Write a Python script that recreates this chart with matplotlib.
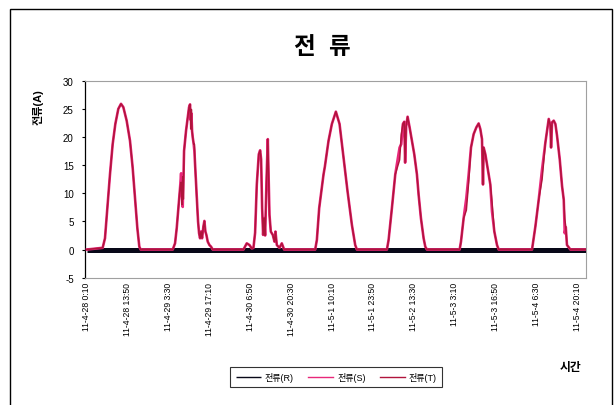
import matplotlib
matplotlib.use("Agg")
import matplotlib.pyplot as plt
from matplotlib.patches import Rectangle

plt.rcParams["font.family"] = ["Liberation Sans", "Noto Sans CJK KR", "DejaVu Sans"]

# ── Data (hours since 11-4-28 0:10, current in A) ────────────────────────────
tick_labels = [
    "11-4-28 0:10", "11-4-28 13:50", "11-4-29 3:30", "11-4-29 17:10",
    "11-4-30 6:50", "11-4-30 20:30", "11-5-1 10:10", "11-5-1 23:50",
    "11-5-2 13:30", "11-5-3 3:10", "11-5-3 16:50", "11-5-4 6:30",
    "11-5-4 20:10",
]
tick_hours = [0.0, 13.67, 27.33, 41.0, 54.67, 68.33, 82.0, 95.67,
              109.33, 123.0, 136.67, 150.33, 164.0]

r_hours = [0.0, 167.0]
r_current = [0.0, 0.0]

hours = [
    # 4/28
    0.0, 5.25, 6.03, 6.81, 7.70, 8.60, 9.49, 10.49, 11.39, 12.17, 13.28,
    14.40, 15.29, 16.07, 16.86, 17.52, 17.97,
    # 4/29
    28.70, 29.47, 30.03, 30.59, 31.15, 31.50, 31.80, 32.04, 32.25, 32.49,
    33.15, 33.71, 34.16, 34.49, 34.72, 34.94, 35.16, 35.39, 35.72, 35.94,
    36.17, 36.50, 36.84, 37.17, 37.51, 37.84, 38.18, 38.51, 38.96, 39.29,
    39.63, 39.96, 40.41, 40.97, 41.52, 42.08,
    # 4/30
    52.36, 53.47, 54.36, 55.15, 55.70, 56.26, 56.82, 57.49, 57.94, 58.27,
    58.61, 58.94, 59.28, 59.61, 60.06, 60.50, 60.84, 61.06, 61.51, 62.18,
    62.74, 63.07, 63.52, 64.41, 65.19, 65.97,
    # 5/1
    76.36, 76.92, 77.70, 79.15, 79.60, 80.82, 81.94, 83.28, 84.51, 85.84,
    87.18, 88.64, 89.75, 90.31,
    # 5/2
    100.36, 100.92, 102.03, 103.15, 104.60, 105.16, 105.71, 106.16, 106.45,
    106.80, 107.28, 107.95, 108.73, 109.51, 110.40, 110.96, 111.74, 112.64,
    113.20, 113.75,
    # 5/3
    124.69, 125.14, 126.03, 126.93, 127.71, 128.49, 129.38, 130.28, 131.05,
    131.61, 132.17, 132.50, 132.73, 133.29, 134.41, 134.96, 135.52, 136.30,
    137.19, 137.75,
    # 5/4
    148.91, 150.03, 151.15, 152.27, 153.38, 153.94, 154.50, 155.06, 155.28,
    155.61, 156.17, 156.73, 157.28, 158.18, 158.96, 159.52, 159.86, 160.20,
    160.60, 161.75, 167.0,
]

s_current = [
    0.0, 0.3, 2.0, 7.4, 13.4, 18.8, 22.4, 25.1, 26.0, 25.4, 23.0,
    19.4, 14.6, 9.2, 3.8, 0.5, 0.0,
    0.0, 1.1, 3.8, 7.4, 11.0, 13.6, 9.5, 7.6, 12.5, 17.6,
    21.2, 23.6, 25.4, 25.9, 23.1, 24.3, 21.2, 20.0, 18.8, 17.6,
    15.2, 11.6, 8.0, 5.0, 2.9, 2.0, 3.2, 2.0, 4.1, 5.1,
    3.2, 2.6, 1.4, 0.8, 0.5, 0.0,
    0.0, 1.1, 0.8, 0.2, 0.3, 3.0, 11.6, 17.0, 17.7, 16.1,
    7.4, 2.6, 5.6, 2.5, 12.0, 19.7, 12.0, 6.2, 3.2, 2.6,
    1.4, 3.2, 0.8, 0.3, 1.1, 0.0,
    0.0, 1.7, 7.4, 13.4, 14.8, 19.4, 22.4, 24.6, 22.4, 16.4,
    10.4, 4.4, 0.8, 0.0,
    0.0, 1.7, 7.4, 13.4, 18.2, 18.8, 22.4, 22.8, 15.5,
    22.0, 23.7, 21.8, 19.4, 17.0, 13.4, 9.8, 5.6, 2.0,
    0.5, 0.0,
    0.0, 1.4, 5.6, 9.2, 13.4, 18.2, 20.6, 21.8, 22.5,
    21.5, 19.7, 11.6, 18.2, 17.0, 13.4, 11.6, 6.8, 3.2,
    0.8, 0.0,
    0.0, 4.1, 8.9, 14.3, 19.1, 21.2, 23.3, 22.1, 18.2,
    22.7, 23.0, 22.4, 20.3, 16.1, 11.3, 8.9, 2.9, 4.0,
    0.8, 0.0, 0.0,
]

t_current = [
    0.0, 0.3, 2.0, 7.4, 13.4, 18.8, 22.4, 25.1, 26.0, 25.4, 23.0,
    19.4, 14.6, 9.2, 3.8, 0.5, 0.0,
    0.0, 1.1, 3.8, 7.4, 11.0, 12.0, 8.0, 13.0, 9.0, 17.6,
    21.2, 23.6, 25.4, 25.9, 21.5, 25.0, 21.2, 20.0, 18.8, 18.8,
    15.2, 11.6, 8.0, 5.0, 2.9, 2.0, 3.2, 2.0, 4.1, 5.1,
    3.2, 2.6, 1.4, 0.8, 0.5, 0.0,
    0.0, 1.1, 0.8, 0.2, 0.3, 3.0, 11.6, 17.0, 17.7, 16.1,
    7.4, 2.6, 5.6, 2.5, 12.0, 19.7, 12.0, 6.2, 3.2, 2.6,
    1.4, 3.2, 0.8, 0.3, 1.1, 0.0,
    0.0, 1.7, 7.4, 13.4, 14.8, 19.4, 22.4, 24.6, 22.4, 16.4,
    10.4, 4.4, 0.8, 0.0,
    0.0, 1.7, 7.4, 13.4, 16.0, 20.5, 22.4, 22.8, 15.5,
    22.0, 23.7, 21.8, 19.4, 17.0, 13.4, 9.8, 5.6, 2.0,
    0.5, 0.0,
    0.0, 1.4, 5.6, 7.0, 12.0, 18.2, 20.6, 21.8, 22.5,
    21.5, 19.7, 11.6, 18.2, 17.0, 13.4, 11.6, 8.5, 3.2,
    0.8, 0.0,
    0.0, 4.1, 8.9, 12.5, 19.1, 21.2, 23.3, 22.1, 18.2,
    22.7, 23.0, 22.4, 20.3, 16.1, 11.3, 8.9, 5.5, 4.0,
    0.8, 0.0, 0.0,
]

y_ticks = [-5, 0, 5, 10, 15, 20, 25, 30]

# ── Figure ───────────────────────────────────────────────────────────────────
fig = plt.figure(figsize=(6.15, 4.06), dpi=100)
fig.patch.set_facecolor("white")
ax = fig.add_axes([0.138, 0.314, 0.815, 0.483])

ax.plot(r_hours, r_current, color="#080818", linewidth=3.6, label="전류(R)",
        solid_capstyle="butt", zorder=3)
ax.plot(hours, s_current, color="#e8287a", linewidth=1.9, label="전류(S)",
        zorder=4)
ax.plot(hours, t_current, color="#b0143c", linewidth=1.1, label="전류(T)",
        zorder=5)

ax.set_xlim(-0.7, 167.0)
ax.set_ylim(-5, 30)
ax.set_yticks(y_ticks)
ax.set_yticklabels([str(v) for v in y_ticks], fontsize=7)
ax.set_xticks(tick_hours)
ax.set_xticklabels(tick_labels, rotation=90, fontsize=6.2, va="top")
ax.tick_params(axis="x", length=0, pad=3)
ax.tick_params(axis="y", length=2, width=0.8, pad=6)

for side in ("top", "right", "bottom"):
    ax.spines[side].set_color("#a0a0a0")
    ax.spines[side].set_linewidth(0.8)
ax.spines["left"].set_color("black")
ax.spines["left"].set_linewidth(0.9)

# titles
fig.text(0.524, 0.884, "전  류", fontsize=17, fontweight="bold",
         ha="center", va="center")
fig.text(0.062, 0.737, "전류(A)", fontsize=8, fontweight="bold",
         rotation=90, ha="center", va="center")
fig.text(0.927, 0.094, "시간", fontsize=8.5, fontweight="bold",
         ha="center", va="center")

leg = fig.legend(loc="center", bbox_to_anchor=(0.547, 0.069), ncol=3,
                 fontsize=6.5, frameon=True, fancybox=False,
                 handlelength=2.8, columnspacing=1.6, borderpad=0.6,
                 handletextpad=0.4)
leg.get_frame().set_edgecolor("black")
leg.get_frame().set_linewidth(0.8)
for line in leg.get_lines():
    line.set_linewidth(1.0)

# outer chart frame
fig.add_artist(Rectangle((10 / 615, -0.1), 602 / 615, 1.1 - 10 / 406,
                         transform=fig.transFigure, fill=False,
                         edgecolor="black", linewidth=1.0))

fig.savefig("out.png", dpi=100)
